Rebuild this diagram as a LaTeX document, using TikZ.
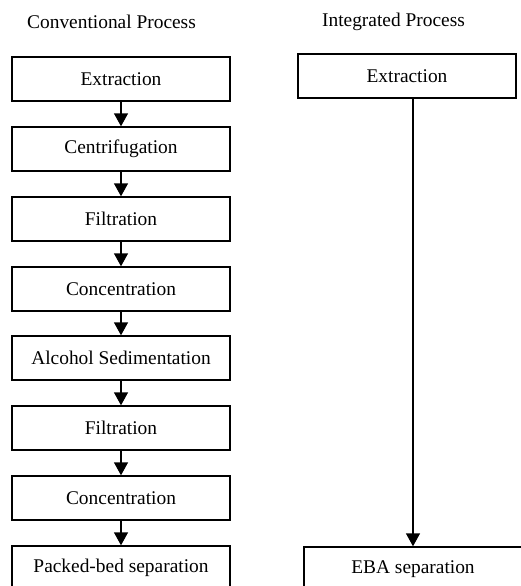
\documentclass[tikz,border=0pt]{standalone}
\usepackage{fontspec}
\setmainfont{Liberation Serif}
\usetikzlibrary{arrows.meta}

\begin{document}
\begin{tikzpicture}[x=0.5pt, y=-0.5pt, font=\fontsize{9.7}{11.6}\selectfont,
  stage/.style={draw, line width=0.7pt, minimum width=109pt, minimum height=22pt, inner sep=0pt},
  flow/.style={line width=0.7pt, -{Triangle[width=7pt, length=6.5pt]}}]
\clip (0,0) rectangle (521,586);

% conventional
\node[] (convtitle) at (111.5, 22) {Conventional Process};
\node[stage] (extr) at (121, 79) {Extraction};
\node[stage] (centr) at (121, 149) {Centrifugation};
\node[stage] (filtr) at (121, 219) {Filtration};
\node[stage] (conc) at (121, 289) {Concentration};
\node[stage] (alcsed) at (121, 358) {Alcohol Sedimentation};
\node[stage] (filtrb) at (121, 428) {Filtration};
\node[stage] (concb) at (121, 498) {Concentration};
\node[stage] (packed) at (121, 568) {Packed-bed separation};
\draw[flow] (extr) -- (centr);
\draw[flow] (centr) -- (filtr);
\draw[flow] (filtr) -- (conc);
\draw[flow] (conc) -- (alcsed);
\draw[flow] (alcsed) -- (filtrb);
\draw[flow] (filtrb) -- (concb);
\draw[flow] (concb) -- (packed);

% integrated
\node[] (intitle) at (393.5, 22) {Integrated Process};
\node[stage] (extrint) at (407, 76) {Extraction};
\node[stage] (eba) at (413, 569) {EBA separation};
\draw[flow] (extrint.south -| eba.north) -- (eba.north);
\end{tikzpicture}
\end{document}
